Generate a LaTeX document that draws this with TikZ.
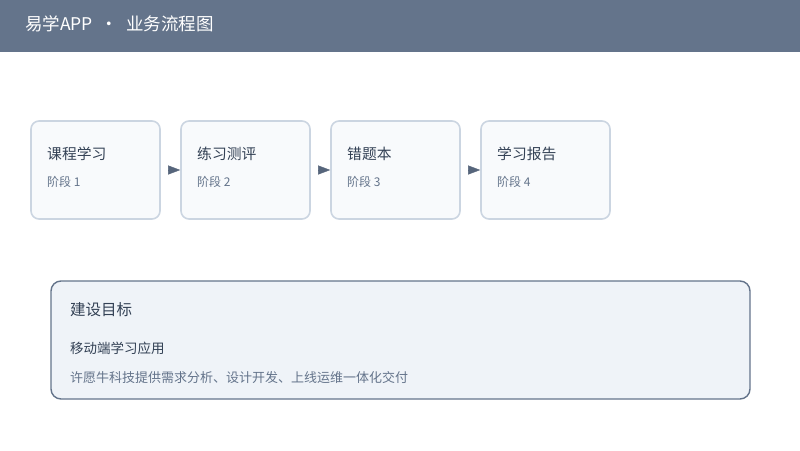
\documentclass[tikz,border=0pt]{standalone}
\usepackage{fontspec}
\setmainfont{Noto Sans CJK SC}
\usetikzlibrary{arrows.meta}
\definecolor{slate}{HTML}{64748B}
\definecolor{stageline}{HTML}{CBD5E1}
\definecolor{stagefill}{HTML}{F8FAFC}
\definecolor{goalfill}{HTML}{EFF3F8}
\definecolor{ink}{HTML}{334155}
\definecolor{muted}{HTML}{64748B}
\definecolor{tipink}{HTML}{56657B}
\tikzset{
  stagebox/.style={draw=stageline, line width=1.6pt, fill=stagefill, rounded corners=8pt,
    minimum width=129pt, minimum height=98pt, inner sep=0pt},
  stagetitle/.style={anchor=west, font=\fontsize{14.8}{17}\selectfont, text=ink, inner sep=0pt},
  stagesub/.style={anchor=west, font=\fontsize{12}{14}\selectfont, text=muted, inner sep=0pt},
  flow/.style={draw=tipink, line width=0.4pt, -{Triangle[length=12pt,width=9pt]}, shorten <=8pt}
}
\begin{document}
\begin{tikzpicture}[x=1pt,y=-1pt]
		\useasboundingbox (0,0) rectangle (800,450);
		% Header
		\fill[slate] (0,0) rectangle (800,52);
		\node[anchor=west, text=white, font=\fontsize{17.5}{20}\selectfont, inner sep=0pt] (header) at (25,24) {易学APP\hspace{0.45em}·\hspace{0.45em}业务流程图};

		% Stages
		\node[stagebox] (s1) at (95.5,170) {};
		\node[stagetitle] (s1t) at (47,154) {课程学习};
		\node[stagesub] (s1s) at (47,182) {阶段 1};

		\node[stagebox] (s2) at (245.5,170) {};
		\node[stagetitle] (s2t) at (197,154) {练习测评};
		\node[stagesub] (s2s) at (197,182) {阶段 2};

		\node[stagebox] (s3) at (395.5,170) {};
		\node[stagetitle] (s3t) at (347,154) {错题本};
		\node[stagesub] (s3s) at (347,182) {阶段 3};

		\node[stagebox] (s4) at (545.5,170) {};
		\node[stagetitle] (s4t) at (497,154) {学习报告};
		\node[stagesub] (s4s) at (497,182) {阶段 4};

		% Connections
		\draw[flow] (s1.east) -- (s2.west);
		\draw[flow] (s2.east) -- (s3.west);
		\draw[flow] (s3.east) -- (s4.west);

		% Goal
		\node[draw=slate, line width=1.4pt, fill=goalfill, rounded corners=10pt,
		      minimum width=699pt, minimum height=118pt, inner sep=0pt] (goal) at (400.5,340) {};
		\node[anchor=west, font=\fontsize{15.5}{18}\selectfont, text=ink, inner sep=0pt] (goalt) at (70,310) {建设目标};
		\node[anchor=west, font=\fontsize{13.5}{16}\selectfont, text=ink, inner sep=0pt] (goals) at (70,348) {移动端学习应用};
		\node[anchor=west, font=\fontsize{13}{15}\selectfont, text=muted, inner sep=0pt] (goald) at (70,378) {许愿牛科技提供需求分析、设计开发、上线运维一体化交付};
	\end{tikzpicture}
\end{document}
